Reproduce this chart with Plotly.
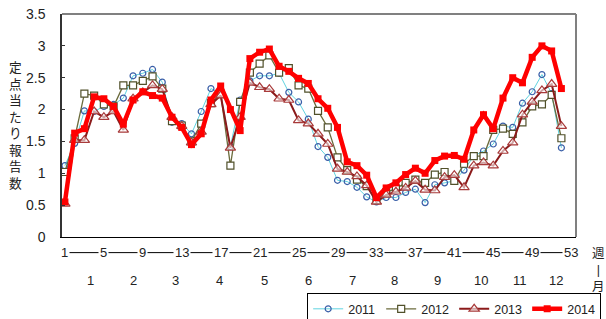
import plotly.graph_objects as go

weeks = list(range(1, 53))

v2011 = [1.12, 1.47, 1.98, 1.97, 2.05, 2.08, 2.18, 2.53, 2.57, 2.63, 2.43, 1.80, 1.78, 1.62, 1.97, 2.33,
         2.25, 1.42, 2.15, 2.45, 2.53, 2.53, 2.57, 2.27, 2.12, 1.85, 1.42, 1.25, 0.89, 0.87, 0.78, 0.63,
         0.55, 0.62, 0.62, 0.70, 0.75, 0.54, 0.82, 0.85, 0.88, 1.05, 1.27, 1.35, 1.46, 1.74, 1.72, 2.10,
         2.28, 2.55, 2.25, 1.40]
v2012 = [1.02, 1.55, 2.25, 2.22, 2.08, 2.05, 2.38, 2.38, 2.45, 2.52, 2.33, 1.82, 1.75, 1.50, 1.78, 2.10,
         2.25, 1.12, 2.12, 2.58, 2.72, 2.85, 2.58, 2.65, 2.38, 2.33, 1.98, 1.72, 1.25, 1.05, 0.90, 0.80,
         0.58, 0.70, 0.76, 0.85, 0.90, 0.85, 0.98, 1.02, 0.88, 1.15, 1.27, 1.27, 1.68, 1.70, 1.62, 1.80,
         2.05, 2.08, 2.23, 1.55]
v2013 = [0.52, 1.52, 1.52, 1.97, 1.88, 1.97, 1.68, 2.17, 2.27, 2.38, 2.32, 1.88, 1.74, 1.48, 1.65, 2.08,
         2.22, 1.40, 1.88, 2.42, 2.35, 2.32, 2.17, 2.15, 1.83, 1.78, 1.62, 1.46, 1.07, 1.02, 0.95, 0.81,
         0.55, 0.66, 0.71, 0.77, 0.88, 0.74, 0.73, 0.94, 0.97, 0.78, 1.12, 1.17, 1.12, 1.35, 1.48, 1.92,
         2.12, 2.30, 2.40, 1.74]
v2014 = [0.55, 1.63, 1.70, 2.20, 2.17, 2.05, 1.77, 2.15, 2.28, 2.22, 2.18, 1.88, 1.72, 1.45, 1.62, 2.15,
         2.37, 2.00, 1.67, 2.80, 2.90, 2.95, 2.68, 2.60, 2.49, 2.41, 2.17, 2.02, 1.72, 1.18, 1.12, 0.97,
         0.62, 0.77, 0.85, 0.98, 1.08, 1.00, 1.20, 1.27, 1.28, 1.22, 1.68, 1.92, 1.70, 2.18, 2.50, 2.42,
         2.82, 3.00, 2.92, 2.33]

week_ticks = [1, 5, 9, 13, 17, 21, 25, 29, 33, 37, 41, 45, 49, 53]
month_labels = ["1", "2", "3", "4", "5", "6", "7", "8", "9", "10", "11", "12"]
month_center_weeks = [3.6, 8.0, 12.4, 16.9, 21.5, 26.0, 30.5, 34.9, 39.3, 43.7, 47.7, 51.4]
y_ticks = [0, 0.5, 1, 1.5, 2, 2.5, 3, 3.5]
y_title = "定点当たり報告数"

FONT = "Liberation Sans, Arial, Noto Sans CJK JP, sans-serif"

fig = go.Figure()
fig.add_trace(go.Scatter(x=weeks, y=v2011, name="2011", mode="lines+markers",
                         line=dict(color="#5fd3e0", width=1),
                         marker=dict(symbol="circle-open", size=6, color="#3a5fa8", line=dict(width=1.2))))
fig.add_trace(go.Scatter(x=weeks, y=v2012, name="2012", mode="lines+markers",
                         line=dict(color="#6b6b3c", width=1.3),
                         marker=dict(symbol="square", size=7, color="white", line=dict(color="#50502a", width=1.2))))
fig.add_trace(go.Scatter(x=weeks, y=v2013, name="2013", mode="lines+markers",
                         line=dict(color="#8b1a1a", width=2),
                         marker=dict(symbol="triangle-up", size=9, color="rgba(255,255,255,0.6)",
                                     line=dict(color="#a83a3a", width=1.2))))
fig.add_trace(go.Scatter(x=weeks, y=v2014, name="2014", mode="lines+markers",
                         line=dict(color="#ff0000", width=4.5),
                         marker=dict(symbol="square", size=7, color="#ff0000")))

# week labels with a line through them
line_y = -0.07
fig.add_shape(type="line", xref="x", yref="paper", x0=week_ticks[0], x1=week_ticks[-1],
              y0=line_y, y1=line_y, line=dict(color="black", width=1))
for w in week_ticks:
    fig.add_annotation(x=w, y=line_y, xref="x", yref="paper", text=str(w), showarrow=False,
                       bgcolor="white", borderpad=1, font=dict(size=13, color="#222"),
                       xanchor="center", yanchor="middle")
for m, c in zip(month_labels, month_center_weeks):
    fig.add_annotation(x=c, y=-0.193, xref="x", yref="paper", text=m, showarrow=False,
                       font=dict(size=13, color="#222"), xanchor="center", yanchor="middle")
# right side 週 | 月
fig.add_annotation(x=1.043, y=-0.148, xref="paper", yref="paper", text="週<br>|<br>月", showarrow=False,
                   font=dict(size=12.5, color="#222"), xanchor="center", yanchor="middle")
# y title
fig.add_annotation(x=-0.09, y=0.5, xref="paper", yref="paper", text="<br>".join(y_title), showarrow=False,
                   font=dict(size=12.7, color="#222"), xanchor="center", yanchor="middle")

# top/right gray frame
fig.add_shape(type="line", xref="paper", yref="paper", x0=0, x1=1, y0=1, y1=1,
              line=dict(color="#808080", width=2))
fig.add_shape(type="line", xref="paper", yref="paper", x0=1, x1=1, y0=0, y1=1,
              line=dict(color="#808080", width=2))

fig.update_layout(
    width=606, height=319,
    margin=dict(l=62, r=30, t=14, b=82, autoexpand=False),
    paper_bgcolor="white", plot_bgcolor="white",
    font=dict(family=FONT, size=13, color="#222"),
    showlegend=True,
    legend=dict(orientation="h", x=0.477, y=-0.252, xanchor="left", yanchor="top",
                bordercolor="black", borderwidth=1, font=dict(size=12.5),
                itemwidth=30, tracegroupgap=0, entrywidth=28, entrywidthmode="pixels"),
    xaxis=dict(range=[0.7, 53.5], showgrid=False, zeroline=False, showticklabels=False,
               showline=True, linecolor="black", linewidth=1, ticks=""),
    yaxis=dict(range=[0, 3.5], tickvals=y_ticks, showgrid=False, zeroline=False,
               showline=True, linecolor="#333", linewidth=1.5, ticks="inside", ticklen=3,
               tickcolor="#333", ticklabelstandoff=12, tickfont=dict(size=14)),
)

fig.write_html("out.html", config={"displayModeBar": False},
               post_script="document.body.style.margin='0';document.body.style.overflow='hidden';")
